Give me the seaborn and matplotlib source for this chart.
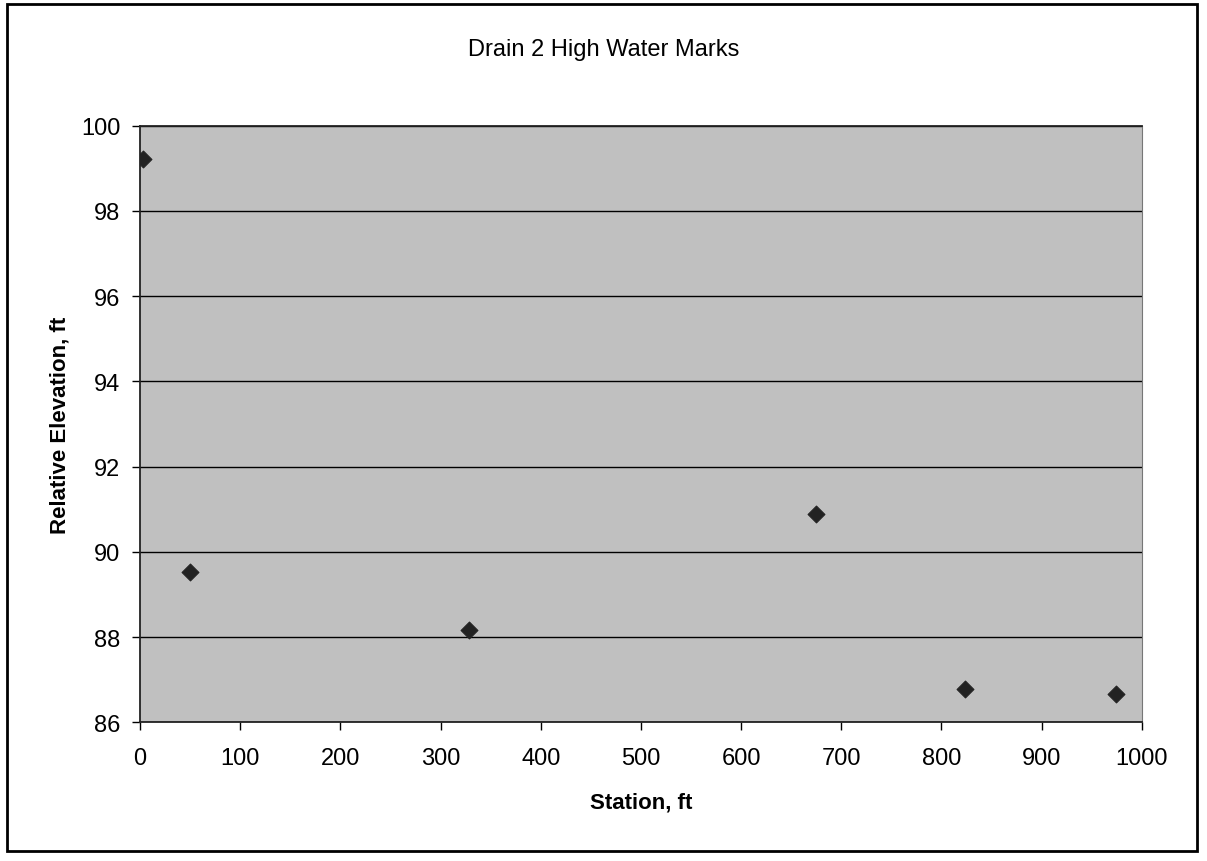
import pandas as pd
import matplotlib.pyplot as plt
import seaborn as sns
from matplotlib.patches import Rectangle

# Verinin tanımlanması
station = [3, 50, 328, 675, 823, 974]
elevation = [99.22, 89.52, 88.17, 90.88, 86.77, 86.67]

df = pd.DataFrame({"Station, ft": station, "Relative Elevation, ft": elevation})

sns.set_style("ticks")
plt.rcParams['font.family'] = ['Liberation Sans', 'DejaVu Sans']
plt.rcParams['text.color'] = 'black'
plt.rcParams['axes.labelcolor'] = 'black'

fig = plt.figure(figsize=(12.07, 8.62), dpi=100)
ax = fig.add_axes([0.116, 0.161, 0.830, 0.692])
ax.set_facecolor("#c0c0c0")

sns.scatterplot(data=df, x="Station, ft", y="Relative Elevation, ft", ax=ax,
                marker="D", s=75, color="#222222", edgecolor="#222222", zorder=3)

ax.set_xlim(0, 1000)
ax.set_ylim(86, 100)
ax.set_xticks(range(0, 1001, 100))
ax.set_yticks(range(86, 101, 2))
ax.grid(axis="y", color="black", linewidth=1.0)
ax.set_axisbelow(True)
ax.tick_params(direction="out", length=6, width=1, labelsize=17, colors="black")
ax.tick_params(axis="x", pad=12)
ax.tick_params(axis="y", pad=8)

for side in ["left", "bottom", "top"]:
    ax.spines[side].set_visible(True)
    ax.spines[side].set_color("#222222")
    ax.spines[side].set_linewidth(1.3)
ax.spines["right"].set_visible(True)
ax.spines["right"].set_color("#777777")

ax.set_xlabel("Station, ft", fontsize=16, fontweight="bold", labelpad=16)
ax.set_ylabel("Relative Elevation, ft", fontsize=16, fontweight="bold", labelpad=8)
fig.text(0.5, 0.942, "Drain 2 High Water Marks", ha="center", va="center", fontsize=17)

# Grafik çerçevesi
fig.patches.append(Rectangle((0.006, 0.012), 0.986, 0.982, transform=fig.transFigure,
                             fill=False, edgecolor="black", linewidth=2))

plt.savefig("out.png", dpi=100)
